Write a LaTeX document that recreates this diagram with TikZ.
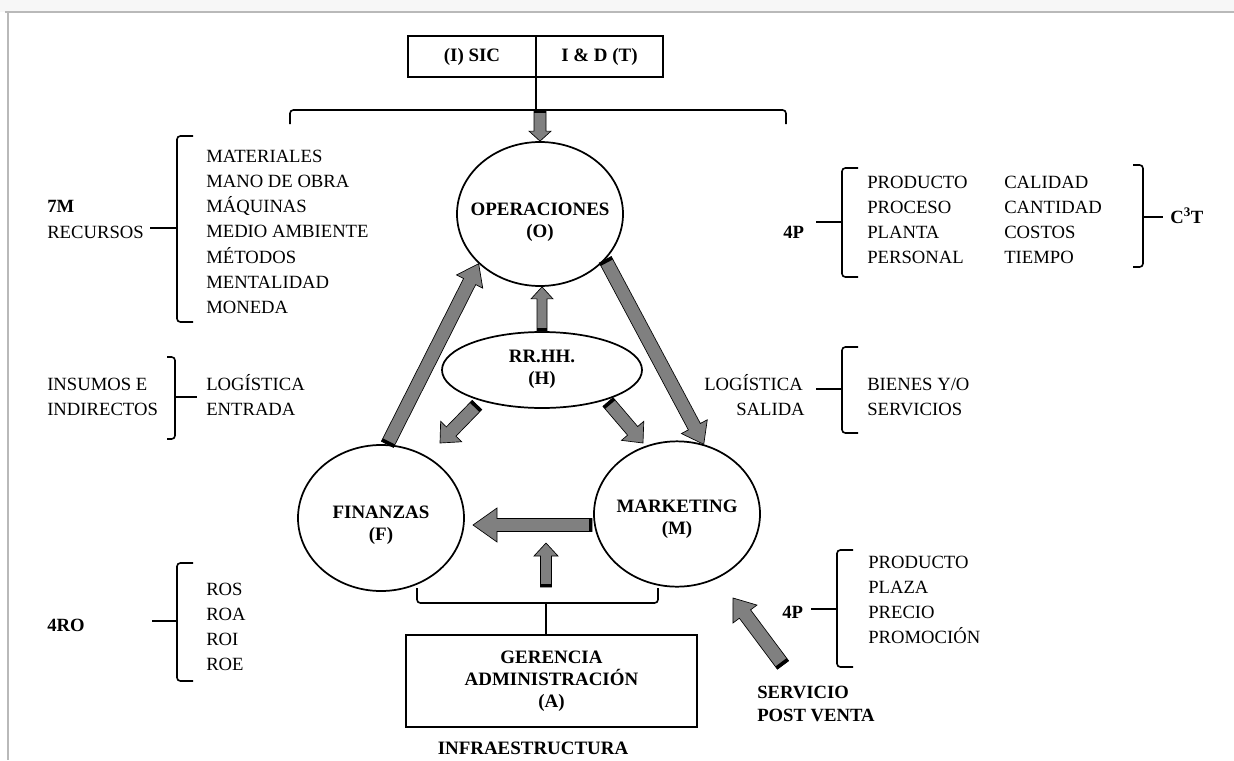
\documentclass[tikz,border=0pt]{standalone}
\usepackage{fontspec}
\setmainfont{Liberation Serif}
\usetikzlibrary{calc,shapes.geometric}

\definecolor{arrowgray}{RGB}{128,128,128}
\definecolor{framegray}{RGB}{185,185,185}

\tikzset{
  item/.style={anchor=base west, inner sep=0pt, font=\fontsize{14}{16}\selectfont},
  headtxt/.style={anchor=base west, inner sep=0pt, font=\fontsize{14}{16}\selectfont\bfseries},
  unit/.style={draw, line width=1.3pt, ellipse, inner sep=0pt},
  unitlabel/.style={align=center, inner sep=0pt, font=\fontsize{14.2}{16.5}\selectfont\bfseries},
  boxed/.style={draw, line width=1.3pt, rectangle, inner sep=0pt, font=\fontsize{14.2}{16.5}\selectfont\bfseries},
  brak/.style={line width=1.2pt, rounded corners=2.5pt},
  fatbody/.style={fill=arrowgray, draw=black, line width=0.5pt, line join=miter},
}

% block arrow: #1 tail, #2 tip, #3 half shaft width, #4 half head width, #5 head length
\newcommand\blockarrow[5]{%
  \path ($(#2)!#5!(#1)$) coordinate (ba-h);
  \path ($(#1)!1.25pt!(#2)$) coordinate (ba-t);
  \filldraw[fatbody] ($(#1)!#3!90:(#2)$) -- ($(ba-h)!#3!90:(#2)$) -- ($(ba-h)!#4!90:(#2)$)
     -- (#2) -- ($(ba-h)!#4!-90:(#2)$) -- ($(ba-h)!#3!-90:(#2)$) -- ($(#1)!#3!-90:(#2)$) -- cycle;
  \draw[line width=2.5pt] ($(ba-t)!#3!90:(#2)$) -- ($(ba-t)!#3!-90:(#2)$);
}
% bracket: #1 x of spine, #2 top, #3 bottom, #4 x of ends, #5 y of middle, #6 x of stem end
\newcommand\openbrak[6]{%
  \draw[brak] (#4,#2) -- (#1,#2) -- (#1,#3) -- (#4,#3);
  \draw[line width=1.2pt] (#1,#5) -- (#6,#5);
}

\begin{document}
\begin{tikzpicture}[x=0.75pt,y=-0.75pt]
\useasboundingbox (0,0) rectangle (1234,760);

% page frame
\fill[black!3] (0,0) rectangle (1234,12);
\draw[framegray, line width=0.8pt] (5,12) -- (1234,12);
\draw[framegray, line width=0.8pt] (8,12) -- (8,760);

% top boxes
\node[boxed, minimum width=96pt, minimum height=30.75pt] (sic) at (472,56.5) {(I) SIC};
\node[boxed, minimum width=95.25pt, minimum height=30.75pt] (id) at (599.5,56.5) {I \& D (T)};

% top brace
\coordinate (topbrace) at (536,110);
\draw[brak] (290,124) -- (290,110) -- (786,110) -- (786,124);
\draw[line width=1.2pt] (topbrace |- sic.south) -- (topbrace);

% functional units
\node[unit, minimum width=124.5pt, minimum height=108pt] (O) at (540,214) {};
\node[unitlabel] (Otxt) at (540,222) {OPERACIONES\\(O)};
\node[unit, minimum width=150pt, minimum height=57pt] (H) at (542,370) {};
\node[unitlabel] (Htxt) at (542,369) {RR.HH.\\(H)};
\node[unit, minimum width=124.5pt, minimum height=109.5pt] (F) at (381,518) {};
\node[unitlabel] (Ftxt) at (381,525) {FINANZAS\\(F)};
\node[unit, minimum width=124.5pt, minimum height=109pt] (M) at (677,514) {};
\node[unitlabel] (Mtxt) at (677,519) {MARKETING\\(M)};

% management box
\node[boxed, minimum width=218.25pt, minimum height=69pt, align=center] (G) at (551.5,681)
  {GERENCIA\\ADMINISTRACIÓN\\(A)};
\node[anchor=base, inner sep=0pt, font=\fontsize{14.2}{16}\selectfont\bfseries] (infra) at (533,754) {INFRAESTRUCTURA};

% bottom brace
\coordinate (botbrace) at (546,603);
\draw[brak] (417,588) -- (417,603) -- (658,603) -- (658,588);
\draw[line width=1.2pt] (botbrace) -- (botbrace |- G.north);

% block arrows
\coordinate (topT) at ($(O.north)+(0,-31)$);
\blockarrow{topT}{O.north}{4.5pt}{8.25pt}{7.5pt}
\blockarrow{H.north}{H.north |- O.south}{3.75pt}{8.25pt}{9pt}
\blockarrow{F.85}{O.-141}{5.1pt}{11pt}{15pt}
\blockarrow{O.-35}{M.69}{5.1pt}{11pt}{15pt}
\coordinate (hfT) at ($(H.center)+(-65,35)$);
\coordinate (hfH) at ($(F.center)+(59,-75)$);
\blockarrow{hfT}{hfH}{5pt}{11pt}{12pt}
\coordinate (hmT) at ($(H.center)+(66,32)$);
\coordinate (hmH) at ($(M.center)+(-34,-71)$);
\blockarrow{hmT}{hmH}{5pt}{11pt}{12pt}
\coordinate (mfT) at ($(M.center)+(-85,11)$);
\coordinate (mfH) at ($(F.center)+(92,7)$);
\blockarrow{mfT}{mfH}{4.9pt}{12.75pt}{18pt}
\coordinate (gfT) at ($(botbrace)+(0,-16)$);
\coordinate (gfH) at ($(botbrace)+(0,-60)$);
\blockarrow{gfT}{gfH}{4.1pt}{9pt}{9.75pt}
\coordinate (svT) at (783,665);
\coordinate (svH) at ($(M.center)+(56,84)$);
\blockarrow{svT}{svH}{5.25pt}{11.25pt}{15pt}

% 7M resources
\node[headtxt] (sevenm) at (47,212) {7M};
\node[item] (recursos) at (47,238) {RECURSOS};
\foreach \t [count=\i] in {MATERIALES,MANO DE OBRA,MÁQUINAS,MEDIO AMBIENTE,MÉTODOS,MENTALIDAD,MONEDA}
  \node[item] (res-\i) at (206,{162+25.3*(\i-1)}) {\t};
\openbrak{177}{136}{322}{193}{228}{150}

% inbound logistics
\node[item] (ins1) at (47,390) {INSUMOS E};
\node[item] (ins2) at (47,415) {INDIRECTOS};
\node[item] (lent1) at (206,390) {LOGÍSTICA};
\node[item] (lent2) at (206,415) {ENTRADA};
\openbrak{175}{357}{439}{167}{397}{197}

% 4RO
\node[headtxt] (fourro) at (47,631) {4RO};
\foreach \t [count=\i] in {ROS,ROA,ROI,ROE}
  \node[item] (ro-\i) at (206,{595+25.3*(\i-1)}) {\t};
\openbrak{177}{563}{681}{193}{621}{152}

% operations 4P and C3T
\node[headtxt] (fourpo) at (783,238) {4P};
\foreach \t [count=\i] in {PRODUCTO,PROCESO,PLANTA,PERSONAL}
  \node[item] (op-\i) at (867,{188+25*(\i-1)}) {\t};
\foreach \t [count=\i] in {CALIDAD,CANTIDAD,COSTOS,TIEMPO}
  \node[item] (ct-\i) at (1004,{188+25*(\i-1)}) {\t};
\openbrak{842}{168}{277}{858}{222}{816}
\openbrak{1143}{165}{267}{1133}{217}{1163}
\node[headtxt] (cct) at (1170,223) {C\textsuperscript{3}T};

% outbound logistics
\node[item] (lsal1) at (704,390) {LOGÍSTICA};
\node[item] (lsal2) at (736,415) {SALIDA};
\node[item] (bs1) at (867,390) {BIENES Y/O};
\node[item] (bs2) at (867,415) {SERVICIOS};
\openbrak{842}{347}{433}{858}{389}{816}

% marketing 4P
\node[headtxt] (fourpm) at (782,618) {4P};
\foreach \t [count=\i] in {PRODUCTO,PLAZA,PRECIO,PROMOCIÓN}
  \node[item] (mk-\i) at (868,{568+25.3*(\i-1)}) {\t};
\openbrak{837}{550}{667}{853}{609}{811}

% after-sales service
\node[headtxt] (serv1) at (757,698) {SERVICIO};
\node[headtxt] (serv2) at (757,721) {POST VENTA};
\end{tikzpicture}
\end{document}
